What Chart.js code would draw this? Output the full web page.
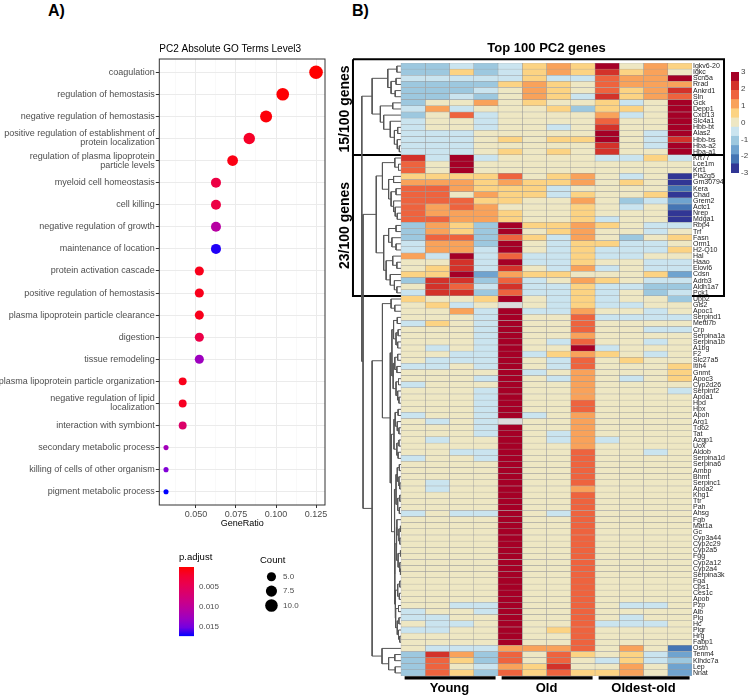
<!DOCTYPE html>
<html>
<head>
<meta charset="utf-8">
<script src="https://cdn.jsdelivr.net/npm/chart.js@4.4.1/dist/chart.umd.min.js"></script>
<style>
html, body { margin: 0; padding: 0; background: #fff; }
#page { position: relative; width: 748px; height: 696px; overflow: hidden; font-family: "Liberation Sans", Arial, sans-serif; }
#page canvas { position: absolute; }
.panel { position: absolute; font-weight: bold; font-size: 16px; line-height: 18px; color: #000; }
</style>
</head>
<body>
<div id="page">
  <div class="panel" style="left:48px;top:2px">A)</div>
  <div class="panel" style="left:352px;top:2px">B)</div>
  <canvas id="goChart" width="336" height="540" style="left:0;top:0"></canvas>
  <canvas id="padjLegend" width="50" height="96" style="left:179px;top:550px"></canvas>
  <canvas id="countLegend" width="50" height="74" style="left:260px;top:550px"></canvas>
  <canvas id="heatChart" width="392" height="696" style="left:336px;top:0"></canvas>
  <canvas id="scaleLegend" width="22" height="118" style="left:726px;top:64px"></canvas>
</div>
<script>
const FONT = '"Liberation Sans", Arial, sans-serif';
Chart.defaults.font.family = FONT;

// ---------- panel A : GO terms ----------
const goTitle = 'PC2 Absolute GO Terms Level3';
const goTerms = [
  'coagulation',
  'regulation of hemostasis',
  'negative regulation of hemostasis',
  'positive regulation of establishment of\nprotein localization',
  'regulation of plasma lipoprotein\nparticle levels',
  'myeloid cell homeostasis',
  'cell killing',
  'negative regulation of growth',
  'maintenance of location',
  'protein activation cascade',
  'positive regulation of hemostasis',
  'plasma lipoprotein particle clearance',
  'digestion',
  'tissue remodeling',
  'plasma lipoprotein particle organization',
  'negative regulation of lipid\nlocalization',
  'interaction with symbiont',
  'secondary metabolic process',
  'killing of cells of other organism',
  'pigment metabolic process'
];
const goCount = [12, 10, 9, 8, 7, 6, 6, 6, 6, 5, 5, 5, 5, 5, 4, 4, 4, 3, 3, 3];
const geneRatio = [0.125, 0.1042, 0.0938, 0.0833, 0.0729, 0.0625, 0.0625, 0.0625, 0.0625,
  0.0521, 0.0521, 0.0521, 0.0521, 0.0521, 0.0417, 0.0417, 0.0417, 0.0313, 0.0313, 0.0313];
const pAdjust = [0.00002, 0.0002, 0.0004, 0.0018, 0.0009, 0.0035, 0.0035, 0.0106, 0.0167,
  0.0012, 0.0012, 0.0012, 0.0038, 0.0127, 0.0012, 0.0015, 0.0063, 0.0123, 0.0144, 0.0173];
const countBreaks = [5, 7.5, 10];
const pTicks = [0.005, 0.010, 0.015];

// red -> blue (ggplot gradient, Lab space sampled)
const pStops = ['#FF0000', '#F40031', '#E90050', '#DA006C', '#CA0089', '#B500A5', '#9B00C3', '#7300E1', '#0000FF'];
const pMin = Math.min(...pAdjust), pMax = Math.max(...pAdjust);
const cMin = Math.min(...goCount), cMax = Math.max(...goCount);

function hexRgb(h) { return [1, 3, 5].map(i => parseInt(h.substr(i, 2), 16)); }
function pColor(p) {
  const t = Math.min(1, Math.max(0, (p - pMin) / (pMax - pMin))) * (pStops.length - 1);
  const k = Math.min(pStops.length - 2, Math.floor(t)), f = t - k;
  const a = hexRgb(pStops[k]), b = hexRgb(pStops[k + 1]);
  const c = a.map((v, i) => Math.round(v + (b[i] - v) * f));
  return `rgb(${c[0]},${c[1]},${c[2]})`;
}
function dotRadius(c) { return 0.85 * (3 + 5 * Math.sqrt((c - cMin) / (cMax - cMin))); }
function isMajor(v) { return Math.abs(v / 0.025 - Math.round(v / 0.025)) < 1e-6; }

const goFrame = {
  id: 'goFrame',
  afterDraw(chart) {
    const { ctx, chartArea: a } = chart;
    ctx.save();
    ctx.strokeStyle = '#333';
    ctx.lineWidth = 1;
    ctx.strokeRect(a.left, a.top, a.right - a.left, a.bottom - a.top);
    ctx.fillStyle = '#000';
    ctx.font = '10px ' + FONT;
    ctx.textAlign = 'left';
    ctx.textBaseline = 'middle';
    ctx.fillText(goTitle, a.left, a.top - 9.5);
    ctx.restore();
  }
};

new Chart(document.getElementById('goChart'), {
  type: 'bubble',
  data: {
    datasets: [{
      data: goTerms.map((t, i) => ({ x: geneRatio[i], y: i, r: dotRadius(goCount[i]) })),
      backgroundColor: pAdjust.map(pColor),
      borderWidth: 0,
      clip: false
    }]
  },
  options: {
    responsive: false,
    animation: false,
    events: [],
    layout: { padding: { top: 59, right: 11, left: 0, bottom: 0 } },
    plugins: { legend: { display: false }, tooltip: { enabled: false } },
    scales: {
      x: {
        type: 'linear', min: 0.0271, max: 0.1306,
        afterFit(s) { s.height = 35; },
        afterBuildTicks(s) { s.ticks = [0.0375, 0.05, 0.0625, 0.075, 0.0875, 0.1, 0.1125, 0.125].map(v => ({ value: v })); },
        ticks: { callback: v => isMajor(v) ? v.toFixed(3) : '', font: { size: 9 }, color: '#4D4D4D', padding: 1, maxRotation: 0, autoSkip: false },
        grid: {
          color: c => isMajor(c.tick.value) ? '#EBEBEB' : '#F5F5F5',
          lineWidth: c => isMajor(c.tick.value) ? 1 : 0.6,
          tickColor: c => isMajor(c.tick.value) ? '#333' : 'rgba(0,0,0,0)',
          tickLength: 3
        },
        border: { display: false },
        title: { display: true, text: 'GeneRatio', font: { size: 9 }, color: '#000', padding: { top: 0, bottom: 10.6 } }
      },
      y: {
        type: 'linear', min: -0.6, max: 19.6, reverse: true,
        afterFit(s) { s.width = 159.3; },
        afterBuildTicks(s) { s.ticks = goTerms.map((t, i) => ({ value: i })); },
        ticks: { callback: v => goTerms[v] ? goTerms[v].split('\n') : '', font: { size: 9, lineHeight: 1 }, color: '#4D4D4D', padding: 1, autoSkip: false },
        grid: { color: '#EBEBEB', tickColor: '#333', tickLength: 3.5 },
        border: { display: false }
      }
    }
  },
  plugins: [goFrame]
});

// p.adjust colour bar
new Chart(document.getElementById('padjLegend'), {
  type: 'bar',
  data: {
    labels: [''],
    datasets: [{
      data: [[pMin, pMax]],
      barPercentage: 1, categoryPercentage: 1,
      backgroundColor(c) {
        const { ctx, chartArea } = c.chart;
        if (!chartArea) return pStops[0];
        const g = ctx.createLinearGradient(0, chartArea.top, 0, chartArea.bottom);
        pStops.forEach((col, k) => g.addColorStop(k / (pStops.length - 1), col));
        return g;
      }
    }]
  },
  options: {
    responsive: false, animation: false, events: [],
    layout: { padding: { bottom: 4 } },
    plugins: {
      legend: { display: false }, tooltip: { enabled: false },
      title: { display: true, text: 'p.adjust', align: 'start', color: '#000', font: { size: 9.5, weight: 'normal' }, padding: { top: 2, bottom: 3.6 } }
    },
    scales: {
      x: { display: false },
      y: {
        type: 'linear', min: pMin, max: pMax, reverse: true, position: 'right',
        afterFit(s) { s.width = 35; },
        afterBuildTicks(s) { s.ticks = pTicks.map(v => ({ value: v })); },
        ticks: { callback: v => v.toFixed(3), font: { size: 8 }, color: '#4D4D4D', padding: 5 },
        grid: { display: false, drawTicks: false },
        border: { display: false }
      }
    }
  }
});

// Count size legend
new Chart(document.getElementById('countLegend'), {
  type: 'bubble',
  data: {
    datasets: [{
      data: countBreaks.map((c, i) => ({ x: 0.5, y: i, r: dotRadius(c) })),
      backgroundColor: '#000', borderWidth: 0, clip: false
    }]
  },
  options: {
    responsive: false, animation: false, events: [],
    layout: { padding: { bottom: 3.5 } },
    plugins: {
      legend: { display: false }, tooltip: { enabled: false },
      title: { display: true, text: 'Count', align: 'start', color: '#000', font: { size: 9.5, weight: 'normal' }, padding: { top: 4.3, bottom: 3.8 } }
    },
    scales: {
      x: { type: 'linear', min: 0, max: 1, display: false },
      y: {
        type: 'linear', min: -0.5, max: 2.5, reverse: true, position: 'right',
        afterFit(s) { s.width = 33.4; },
        afterBuildTicks(s) { s.ticks = countBreaks.map((c, i) => ({ value: i })); },
        ticks: { callback: v => countBreaks[v] !== undefined ? countBreaks[v].toFixed(1) : '', font: { size: 8 }, color: '#4D4D4D', padding: 6.5 },
        grid: { display: false, drawTicks: false },
        border: { display: false }
      }
    }
  }
});

// ---------- panel B : heatmap ----------
const heatTitle = 'Top 100 PC2 genes';
const genes = [
  'Igkv6-20', 'Igkc', 'Scn5a', 'Rrad', 'Ankrd1', 'Sln', 'Gck', 'Depp1', 'Cxcl13', 'Slc4a1',
  'Hbb-bt', 'Alas2', 'Hbb-bs', 'Hba-a2', 'Hba-a1',
  'Krt77', 'Lce1m', 'Krt1', 'Pla2g5', 'Gm30794', 'Kera', 'Chad', 'Grem2', 'Actc1', 'Nrep',
  'Mdga1', 'Rbp4', 'Trf', 'Fasn', 'Orm1', 'H2-Q10', 'Hal', 'Haao', 'Elovl6', 'Cdsn',
  'Adrb3', 'Aldh1a7', 'Pck1',
  'Upp2', 'Gls2', 'Apoc1', 'Serpind1', 'Mettl7b', 'Crp', 'Serpina1a', 'Serpina1b', 'A1bg', 'F2',
  'Slc27a5', 'Itih4', 'Gnmt', 'Apoc3', 'Cyp2d26', 'Serpinf2', 'Apoa1', 'Hpd', 'Hpx', 'Apoh',
  'Arg1', 'Tdo2', 'Tat', 'Azgp1', 'Uox', 'Aldob', 'Serpina1d', 'Serpina6', 'Ambp', 'Bhmt',
  'Serpinc1', 'Apoa2', 'Kng1', 'Ttr', 'Pah', 'Ahsg', 'Fgb', 'Mat1a', 'Gc', 'Cyp3a44',
  'Cyp2c29', 'Cyp2a5', 'Fgg', 'Cyp2a12', 'Cyp2a4', 'Serpina3k', 'Fga', 'Cps1', 'Ces1c', 'Apob',
  'Pzp', 'Alb', 'Plg', 'Hc', 'Pigr', 'Hrg', 'Fabp1', 'Ostn', 'Tenm4', 'Klhdc7a', 'Lep', 'Nnat'
];
// scaled expression, 12 samples per gene (null = NA)
const heatValues = [
  [-1.1, -1.1, -0.5, -1.1, -0.5, 0.5, 1.1, 0.5, 3, 0, 1.1, 0.5],
  [-1.1, -1.1, 0.5, -1.1, -0.5, 0.5, 1.1, 0.5, 2.2, 0.5, 1.1, 0],
  [-0.5, -0.5, -0.5, -0.5, -0.5, 0.5, -0.5, -0.5, 1.6, 1.1, 1.1, 3],
  [-1.1, -1.1, -1.1, -1.1, 0.5, 1.1, 0.5, 0, 1.6, 1.1, 1.1, 1.1],
  [-1.1, -1.1, -1.1, -0.5, 0, 1.1, 0.5, 0, 1.6, 0.5, 1.1, 2.2],
  [-1.1, -1.1, -0.5, -1.1, 0, 1.1, 0.5, -0.5, 2.2, 0.5, 1.1, 1.6],
  [-1.1, 0, 0, 1.1, 0, 0.5, 0, 0, 0.5, -0.5, 0, 3],
  [-0.5, 1.1, -0.5, 0, 0, 0, 0.5, -1.1, 0.5, 0.5, 0, 3],
  [-1.1, 0, 1.6, -0.5, 0, 0, 0, 0, 1.1, -0.5, 0, 3],
  [-0.5, 0, 0, -0.5, 0, 0, 0, 0, 1.6, 0, 0, 3],
  [-0.5, 0, 0, -0.5, 0, 0, -0.5, 0, 2.2, 0, 0, 3],
  [-0.5, -0.5, -0.5, 0, 0, 0, 0, 0, 3, 0, -0.5, 3],
  [-0.5, -0.5, -0.5, 0, 0.5, 0, 0.5, 0.5, 3, 0, -0.5, 2.2],
  [-0.5, -0.5, -0.5, 0, 0, 0, 0, 0, 2.2, 0, -0.5, 3],
  [-0.5, -0.5, -0.5, 0, 0.5, 0, 0.5, 0, 2.2, 0, 0, 3],
  [2.2, -0.5, 3, -0.5, 0, 0, 0, 0, -0.5, -0.5, 0.5, -0.5],
  [1.6, 0, 3, 0, 0, 0, 0, 0, 0, 0, 0, 0],
  [1.6, 0, 3, 0, 0, 0, 0, 0, 0, 0, 0, 0],
  [0.5, 0.5, 0.5, 0.5, 1.6, 0, 0.5, 1.1, 0, -0.5, 0, -2.8],
  [1.1, 1.1, 1.1, 0.5, 1.1, 0.5, 0.5, 1.1, 0, 0.5, 0, -2.8],
  [1.6, 1.6, 1.1, 0.5, 0.5, 0.5, -0.5, 0, 0, 0, 0, -2.2],
  [1.6, 1.6, 0, 1.1, 0.5, 0.5, -0.5, 0.5, 0, 0, 0.5, -2.8],
  [1.6, 1.6, 1.6, 0.5, 0.5, 0, 0, 1.1, 0, -1.1, -0.5, -1.6],
  [1.6, 1.1, 1.6, 1.1, 0, 0, 0, 0.5, 0, -0.5, 0, -2.2],
  [1.6, 1.1, 1.1, 1.1, 0.5, 0, 0, 0.5, 0, 0, 0, -2.8],
  [1.6, 1.6, 1.1, 1.1, 0.5, 0, 0, 0.5, -0.5, 0, 0, -2.8],
  [-1.1, 1.1, 0.5, -1.1, 3, 0.5, 0.5, 1.1, 0.5, 0, -0.5, -0.5],
  [-1.1, 1.1, 0.5, -1.1, 3, 0, 0.5, 1.1, 0, 0, -0.5, 0],
  [-1.1, 1.6, 1.6, -1.1, 1.6, 0.5, -0.5, 1.1, 0, -1.1, 0, 0.5],
  [-0.5, 1.1, 1.1, -1.1, 3, 0, -0.5, 0.5, 0.5, -0.5, -0.5, 0],
  [-0.5, 1.1, 1.1, -0.5, 3, 0, -0.5, 0.5, -0.5, -0.5, -0.5, 0.5],
  [1.1, -0.5, 3, -0.5, 1.6, -0.5, -0.5, 0.5, -0.5, -0.5, 0, 0],
  [0, 0, 2.2, -0.5, 3, -0.5, -0.5, 0.5, 0, 0, -0.5, -0.5],
  [0, 0.5, 2.2, -0.5, 2.2, 0, -0.5, 1.1, -0.5, 0, -0.5, -0.5],
  [0.5, 0.5, 3, -1.6, 1.1, 0.5, 0.5, 0, 0, 0, 0.5, -1.6],
  [-1.1, 2.2, 2.2, -1.1, 1.6, -0.5, 0, 1.1, 0.5, 0, -0.5, -0.5],
  [0, 2.2, 1.6, -0.5, 2.2, -0.5, -0.5, 0.5, -0.5, -0.5, -1.1, -1.1],
  [-0.5, 2.2, 2.2, -1.1, 1.6, -0.5, -0.5, 0.5, -0.5, 0, -1.1, -0.5],
  [0.5, 0, 0, 0.5, 3, 0, -0.5, 0.5, -0.5, 0, 0, -1.1],
  [0, 0.5, -0.5, 0, null, 0, -0.5, 0.5, -0.5, -0.5, 0, 0],
  [0, 0, 1.1, -0.5, 3, -0.5, -0.5, 1.1, 0, 0, -0.5, 0],
  [0, 0, 0, -0.5, 3, 0, 0, 1.6, -0.5, -0.5, -0.5, -0.5],
  [-0.5, 0.5, 0, -0.5, 3, 0, 0, 1.6, 0, 0, 0, 0],
  [0, 0, 0, -0.5, 3, 0, 0, 1.6, 0, 0, -0.5, -0.5],
  [0, 0, 0, -0.5, 3, 0, 0, 1.1, 0, 0, 0, 0],
  [0, 0, 0, -0.5, 3, 0, -0.5, 1.6, 0, 0, -0.5, 0],
  [0, -0.5, 0, -0.5, 3, 0, 0, 3, -0.5, 0, 0, 0],
  [0, 0, -0.5, -0.5, 3, -0.5, 0.5, 1.1, 0.5, 0, -0.5, 0],
  [0, -0.5, -0.5, -0.5, 3, 0, -0.5, 1.6, 0, 0.5, 0, 0],
  [-0.5, -0.5, 0, -0.5, 3, 0, -0.5, 1.6, 0, 0, 0, 0.5],
  [0, 0, 0, 0, 3, -0.5, 0, 1.1, 0, 0, 0, 0.5],
  [0, 0, 0, -0.5, 3, 0, -0.5, 1.1, 0, -0.5, 0, 0.5],
  [-0.5, 0, 0, 0, 3, 0, 0, 1.1, 0, 0, 0, 0],
  [0, 0, 0, -0.5, 3, 0, 0, 1.1, 0, 0, 0, -0.5],
  [0, 0, 0, -0.5, 3, 0, 0, 1.1, 0, 0, 0, 0],
  [0, 0, 0, -0.5, 3, 0, 0, 1.6, 0, 0, 0, 0],
  [0, 0, 0, -0.5, 3, 0, 0, 1.6, 0, 0, 0, 0],
  [-0.5, 0, 0, -0.5, 3, -0.5, 0, 1.1, 0, 0, 0, 0],
  [0, -0.5, 0, -0.5, null, 0, 0, 1.1, 0, 0, 0, 0],
  [0, 0, 0, -0.5, 3, 0, 0, 1.1, 0, 0, 0, 0],
  [0, 0, 0, -0.5, 3, 0, -0.5, 1.1, 0, 0, 0, 0],
  [0, -0.5, 0, 0, 3, 0, -0.5, 1.1, -0.5, 0, 0, 0],
  [0, 0, 0, 0, 3, 0, 0, 1.1, 0, 0, 0, 0],
  [0, 0, -0.5, -0.5, 3, 0, 0, 1.6, 0, 0, -0.5, 0],
  [-0.5, 0, 0, -0.5, 3, 0, 0, 1.6, 0, 0, 0, 0],
  [0, 0, 0, 0, 3, 0, 0, 1.6, 0, 0, 0, 0],
  [0, 0, 0, 0, 3, 0, 0, 1.6, 0, 0, 0, 0],
  [0, 0, 0, 0, 3, 0, 0, 1.6, 0, 0, 0, 0],
  [0, -0.5, 0, 0, 3, 0, 0, 1.6, 0, 0, 0, 0],
  [0, -0.5, 0, 0, 3, 0, 0, 1.1, 0, 0, 0, 0],
  [0, 0, 0, 0, 3, 0, 0, 1.6, 0, 0, 0, 0],
  [0, 0, 0, 0, 3, 0, 0, 1.6, 0, 0, 0, 0],
  [0, 0, 0, 0, 3, 0, 0, 1.6, 0, 0, 0, 0],
  [-0.5, 0, -0.5, -0.5, 3, 0, -0.5, 1.6, 0, 0, 0, 0],
  [0, 0, 0, 0, 3, 0, 0, 1.6, 0, 0, 0, 0],
  [0, 0, 0, 0, 3, 0, 0, 1.6, 0, 0, 0, 0],
  [0, 0, 0, 0, 3, 0, 0, 1.6, 0, 0, 0, 0],
  [0, 0, 0, 0, 3, 0, 0, 1.6, 0, 0, 0, 0],
  [0, 0, 0, 0, 3, 0, 0, 1.6, 0, 0, 0, 0],
  [0, 0, 0, 0, 3, 0, 0, 1.6, 0, 0, 0, 0],
  [0, 0, 0, 0, 3, 0, 0, 1.6, 0, 0, 0, 0],
  [0, 0, 0, 0, 3, 0, 0, 1.6, 0, 0, 0, 0],
  [0, 0, 0, 0, 3, 0, 0, 1.6, 0, 0, 0, 0],
  [0, 0, 0, 0, 3, 0, 0, 1.6, 0, 0, 0, 0],
  [0, 0, 0, 0, 3, 0, 0, 1.6, 0, 0, 0, 0],
  [0, 0, 0, 0, 3, 0, 0, 1.6, 0, 0, 0, 0],
  [0, 0, 0, 0, 3, 0, 0, 1.6, 0, 0, 0, 0],
  [0, 0, 0, 0, 3, 0, 0, 1.6, 0, 0, 0, 0],
  [0, 0, -0.5, -0.5, 3, 0, 0, 1.6, 0, -0.5, -0.5, 0],
  [-0.5, 0, 0, -0.5, 3, 0, 0, 1.6, 0, 0, 0, 0],
  [-0.5, -0.5, 0, 0, 3, 0, 0, 1.6, 0, -0.5, 0, 0],
  [0, -0.5, -0.5, 0, 3, 0, 0, 1.6, -0.5, -0.5, -0.5, 0],
  [-0.5, -0.5, 0, 0, 3, 0, 0.5, 1.6, 0, 0, 0, 0],
  [0, 0, 0, 0, 3, 0, 0, 1.6, 0, 0, 0, 0],
  [0, 0, 0, 0, 3, 0, 0, 1.6, 0, 0, 0, 0],
  [0, -0.5, -0.5, -0.5, 1.1, 1.1, 1.1, 1.6, 0, 1.1, 0, -2.2],
  [-1.1, 2.2, 1.1, -1.1, 1.6, 0, 1.6, 0.5, 0, 0.5, -0.5, -1.6],
  [-1.1, 1.6, 0.5, -1.1, 1.6, 0, 1.6, 0, -0.5, 0.5, -0.5, -1.1],
  [-1.1, 1.6, 0, -0.5, 1.1, 0.5, 2.2, 0, 0, 1.1, 0, -1.6],
  [-1.1, 1.6, 0.5, -1.1, 1.6, 0.5, 1.6, 0.5, 0.5, 1.1, 0, -1.6]
];
const sampleGroups = ['Young', 'Old', 'Oldest-old'];
const groupColumns = [[0, 4], [4, 8], [8, 12]];
const geneBlocks = [
  { label: '15/100 genes', first: 0, last: 14 },
  { label: '23/100 genes', first: 15, last: 37 }
];
// row dendrogram: [height, left, right], leaves are row indexes
const rowTree = [9.5,
  [7.0,
    [3.2, [1.0, 0, 1], [2.4, [1.2, 2, 3], [1.4, 4, 5]]],
    [5.0, [2.0, 6, 7], [4.2, 8, [2.6, 9, [1.6, [0.8, 10, 11], [0.9, 12, [0.4, 13, 14]]]]]]],
  [9.2,
    [6.0,
      [4.5, [1.5, 15, [0.6, 16, 17]],
        [3.0, [1.8, 18, 19], [2.4, [1.2, 20, 21], [1.8, 22, [1.4, 23, [0.9, 24, 25]]]]]],
      [4.2, [3.0, [1.2, 26, 27], [2.2, 28, [1.2, 29, 30]]],
        [3.6, [2.0, 31, [1.0, 32, 33]], [2.6, 34, [1.6, 35, [1.0, 36, 37]]]]]],
    [7.0,
      [4.5, [2.4, 38, [1.5, 39, 40]],
        [2.6,
          [2.2, [1.8, [0.9, 41, 42], [1.2, [0.7, 43, 44], [0.8, 45, 46]]],
            [1.9, [1.5, [0.8, 47, 48], [1.0, 49, 50]], [1.2, [0.6, 51, 52], [0.8, 53, [0.5, 54, 55]]]]],
          [2.3, [1.7, [1.4, [0.7, 56, 57], [0.9, 58, [0.5, 59, 60]]], [1.0, [0.5, 61, 62], [0.7, 63, 64]]],
            [1.6, [1.2, [0.9, [0.4, 65, 66], [0.5, 67, [0.3, 68, 69]]], [0.8, [0.3, 70, 71], [0.4, 72, 73]]],
              [1.5, [1.1, [1.0, 74, [0.5, [0.2, 75, 76], [0.3, 77, 78]]], [0.7, [0.2, 79, 80], [0.3, 81, [0.2, 82, 83]]]],
                [1.4, [0.8, [0.3, 84, 85], [0.4, 86, 87]], [1.3, [0.6, 88, 89], [0.9, [0.5, 90, 91], [0.6, 92, [0.3, 93, 94]]]]]]]]]],
      [4.6, 95, [3.0, [1.5, 96, 97], [1.4, 98, 99]]]]]];

const heatPalette = ['#313695', '#4575B4', '#6FA3CF', '#9DC8DF', '#CAE4EF', '#EEE7C3',
  '#FCD383', '#F9A25A', '#EE633E', '#D3322A', '#A50026'];
const naColor = '#DCDCDC';
const binWidth = 6 / heatPalette.length;
const dendroScale = 0.17;
const boxLeft = -1.98, boxRight = 13.32;

function heatColor(v) {
  if (v === null) return naColor;
  const k = Math.max(0, Math.min(heatPalette.length - 1, Math.floor((v + 3) / binWidth)));
  return heatPalette[k];
}

function dendroSegments(node, out) {
  if (typeof node === 'number') return { y: node, h: 0 };
  const [h, a, b] = node;
  const l = dendroSegments(a, out);
  const r = dendroSegments(b, out);
  out.push([
    { x: -l.h * dendroScale, y: l.y }, { x: -h * dendroScale, y: l.y },
    { x: -h * dendroScale, y: r.y }, { x: -r.h * dendroScale, y: r.y }
  ]);
  return { y: (l.y + r.y) / 2, h };
}

const lineBase = { type: 'line', xAxisID: 'x', yAxisID: 'yd', pointRadius: 0, pointHoverRadius: 0, fill: false, tension: 0, clip: false };

const cellSets = heatValues[0].map((v, j) => ({
  type: 'bar', indexAxis: 'y', xAxisID: 'x', yAxisID: 'y',
  data: genes.map(() => [j, j + 1]),
  backgroundColor: heatValues.map(row => heatColor(row[j])),
  borderColor: '#9A9A9A', borderWidth: 0.5, borderSkipped: false,
  barPercentage: 1, categoryPercentage: 1, grouped: false
}));

const segs = [];
dendroSegments(rowTree, segs);
const treeSets = segs.map(pts => Object.assign({}, lineBase, { data: pts, borderColor: '#555', borderWidth: 1 }));

const boxSets = geneBlocks.map((b, i) => {
  const top = b.first - 0.5 - (i === 0 ? 0.6 : 0), bot = b.last + 0.5;
  return Object.assign({}, lineBase, {
    data: [{ x: boxLeft, y: top }, { x: boxRight, y: top }, { x: boxRight, y: bot }, { x: boxLeft, y: bot }, { x: boxLeft, y: top }],
    borderColor: '#000', borderWidth: 2, borderJoinStyle: 'miter'
  });
});

const groupSets = groupColumns.map(g => Object.assign({}, lineBase, {
  data: [{ x: g[0] + 0.15, y: genes.length - 0.2 }, { x: g[1] - 0.1, y: genes.length - 0.2 }],
  borderColor: '#000', borderWidth: 3.3, borderCapStyle: 'butt'
}));

const heatLabels = {
  id: 'heatLabels',
  afterDraw(chart) {
    const { ctx, chartArea: a, scales: { x, yd } } = chart;
    ctx.save();
    ctx.fillStyle = '#000';
    ctx.textAlign = 'center';
    ctx.textBaseline = 'middle';
    ctx.font = 'bold 13px ' + FONT;
    ctx.fillText(heatTitle, x.getPixelForValue(6), a.top - 15);
    ctx.font = 'bold 14px ' + FONT;
    geneBlocks.forEach(b => {
      const yc = (yd.getPixelForValue(b.first - 0.5) + yd.getPixelForValue(b.last + 0.5)) / 2;
      ctx.save();
      ctx.translate(x.getPixelForValue(boxLeft) - 8, yc);
      ctx.rotate(-Math.PI / 2);
      ctx.fillText(b.label, 0, 0);
      ctx.restore();
    });
    ctx.restore();
  }
};

new Chart(document.getElementById('heatChart'), {
  type: 'bar',
  data: { labels: genes, datasets: [...cellSets, ...treeSets, ...boxSets, ...groupSets] },
  options: {
    responsive: false,
    animation: false,
    events: [],
    layout: { padding: { left: 16, top: 63, right: 0, bottom: 0 } },
    plugins: { legend: { display: false }, tooltip: { enabled: false } },
    scales: {
      x: {
        type: 'linear', min: -2.02, max: 12, position: 'bottom', offset: false,
        afterFit(s) { s.height = 20; },
        afterBuildTicks(s) { s.ticks = groupColumns.map(g => ({ value: (g[0] + g[1]) / 2 })); },
        ticks: { callback: (v, i) => sampleGroups[i], font: { size: 13, weight: 'bold' }, color: '#000', padding: 5, maxRotation: 0, autoSkip: false },
        grid: { display: false, drawTicks: false, offset: false },
        border: { display: false }
      },
      y: {
        type: 'category', position: 'right', offset: true,
        afterFit(s) { s.width = 36; },
        ticks: { autoSkip: false, font: { size: 7, lineHeight: 1 }, color: '#222', padding: 1 },
        grid: { display: false, drawTicks: false, offset: true },
        border: { display: false }
      },
      yd: { type: 'linear', display: false, offset: false, min: -0.5, max: genes.length - 0.5, reverse: true }
    }
  },
  plugins: [heatLabels]
});

// heatmap colour key
const keyTicks = [3, 2, 1, 0, -1, -2, -3];
new Chart(document.getElementById('scaleLegend'), {
  type: 'bar',
  data: {
    labels: [''],
    datasets: heatPalette.map((c, k) => ({
      data: [[-3 + k * binWidth, -3 + (k + 1) * binWidth]],
      backgroundColor: c, barPercentage: 1, categoryPercentage: 1, grouped: false
    }))
  },
  options: {
    responsive: false, animation: false, events: [],
    layout: { padding: { left: 5, top: 8, bottom: 9, right: 0 } },
    plugins: { legend: { display: false }, tooltip: { enabled: false } },
    scales: {
      x: { display: false },
      y: {
        type: 'linear', min: -3, max: 3, position: 'right',
        afterFit(s) { s.width = 9; },
        afterBuildTicks(s) { s.ticks = keyTicks.map(v => ({ value: v })); },
        ticks: { font: { size: 8 }, color: '#444', padding: 2 },
        grid: { display: false, drawTicks: false },
        border: { display: false }
      }
    }
  }
});
</script>
</body>
</html>
